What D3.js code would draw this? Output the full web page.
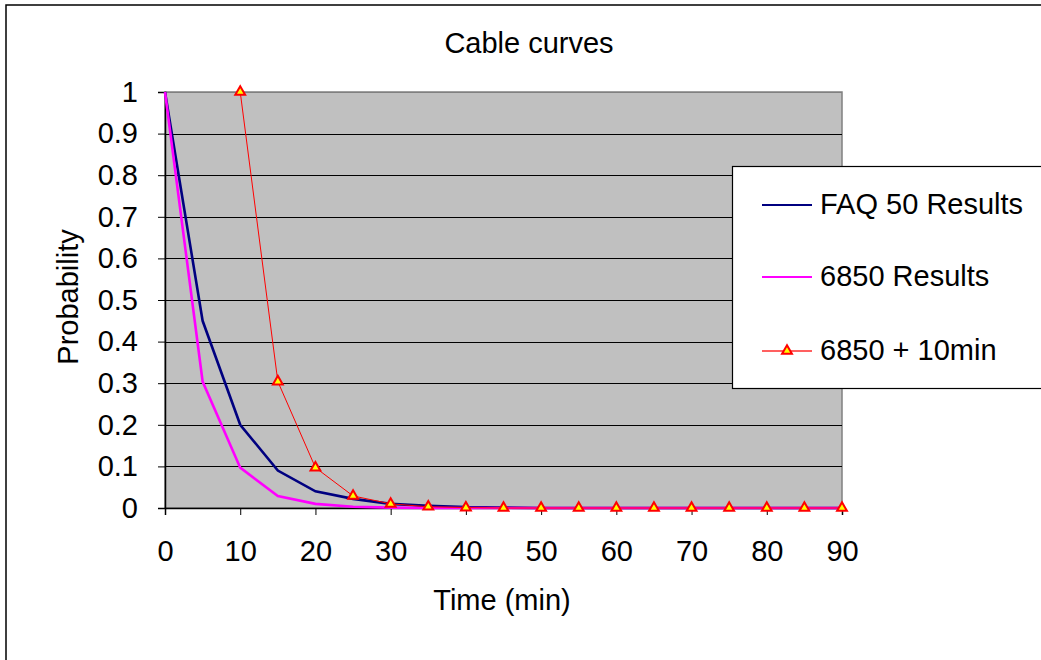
<!DOCTYPE html>
<html>
<head>
<meta charset="utf-8">
<script src="https://cdn.jsdelivr.net/npm/d3@7"></script>
<style>
  html, body { margin: 0; padding: 0; background: #fff; }
  svg { display: block; font-family: "Liberation Sans", Arial, sans-serif; }
</style>
</head>
<body>
<svg id="chart" width="1041" height="660"></svg>
<script>
// Time axis (minutes)
const times = [0, 5, 10, 15, 20, 25, 30, 35, 40, 45, 50, 55, 60, 65, 70, 75, 80, 85, 90];
const xTicks = [0, 10, 20, 30, 40, 50, 60, 70, 80, 90];
const yTicks = [0, 0.1, 0.2, 0.3, 0.4, 0.5, 0.6, 0.7, 0.8, 0.9, 1];

// Series values, one per time step
const faq50 = [1, 0.45, 0.2, 0.09, 0.04, 0.022, 0.01, 0.005, 0.002, 0.001, 0, 0, 0, 0, 0, 0, 0, 0, 0];
const r6850 = [1, 0.304, 0.097, 0.029, 0.01, 0.003, 0.001, 0, 0, 0, 0, 0, 0, 0, 0, 0, 0, 0, 0];
const r6850plus10 = [null, null, 1, 0.304, 0.097, 0.029, 0.01, 0.003, 0.001, 0, 0, 0, 0, 0, 0, 0, 0, 0, 0];

const seriesNames = ["FAQ 50 Results", "6850 Results", "6850 + 10min"];

const FONT = "Liberation Sans, Arial, sans-serif";
const FS = 29;

const svg = d3.select("#chart");
const plot = { left: 165, top: 92, right: 842, bottom: 508 };

const x = d3.scaleLinear().domain([0, 90]).range([plot.left, plot.right]);
const y = d3.scaleLinear().domain([0, 1]).range([plot.bottom, plot.top]);

// Outer chart frame
svg.append("rect").attr("x", 6).attr("y", 5).attr("width", 1100).attr("height", 700)
  .attr("fill", "#fff").attr("stroke", "#000").attr("stroke-width", 1.5);

// Plot background
svg.append("rect")
  .attr("x", plot.left).attr("y", plot.top)
  .attr("width", plot.right - plot.left).attr("height", plot.bottom - plot.top)
  .attr("fill", "#c0c0c0").attr("stroke", "#808080").attr("stroke-width", 1.5);

// Horizontal gridlines
svg.append("g").selectAll("line").data(yTicks.slice(1)).join("line")
  .attr("x1", plot.left).attr("x2", plot.right)
  .attr("y1", d => Math.round(y(d)) + 0.5).attr("y2", d => Math.round(y(d)) + 0.5)
  .attr("stroke", d => d === 1 ? "#808080" : "#000").attr("stroke-width", 1);

// Y axis
const yAxis = svg.append("g").attr("transform", `translate(${plot.left},0)`)
  .call(d3.axisLeft(y).tickValues(yTicks).tickFormat(d3.format("")).tickSize(7).tickPadding(20));
yAxis.select(".domain").attr("stroke", "#000").attr("stroke-width", 1.5);
yAxis.selectAll(".tick line").attr("stroke", "#000");
yAxis.selectAll(".tick text").attr("font-size", FS).attr("fill", "#000").attr("font-family", FONT);

// X axis
const xAxis = svg.append("g").attr("transform", `translate(0,${plot.bottom})`)
  .call(d3.axisBottom(x).tickValues(xTicks).tickFormat(d3.format("d")).tickSize(7).tickPadding(25));
xAxis.select(".domain").attr("stroke", "#000").attr("stroke-width", 1.5);
xAxis.selectAll(".tick line").attr("stroke", "#000");
xAxis.selectAll(".tick text").attr("font-size", FS).attr("fill", "#000").attr("font-family", FONT);

// Lines
const line = d3.line()
  .defined(d => d.v !== null)
  .x(d => x(d.t)).y(d => y(d.v));

const pts = vals => times.map((t, i) => ({ t, v: vals[i] }));

svg.append("path").datum(pts(faq50)).attr("d", line)
  .attr("fill", "none").attr("stroke", "#000080").attr("stroke-width", 2.6);
svg.append("path").datum(pts(r6850)).attr("d", line)
  .attr("fill", "none").attr("stroke", "#ff00ff").attr("stroke-width", 2.6);
svg.append("path").datum(pts(r6850plus10)).attr("d", line)
  .attr("fill", "none").attr("stroke", "#ff0000").attr("stroke-width", 1);

// Triangle markers
const tri = d3.symbol().type(d3.symbolTriangle).size(42);
svg.append("g").selectAll("path")
  .data(pts(r6850plus10).filter(d => d.v !== null)).join("path")
  .attr("d", tri)
  .attr("transform", d => `translate(${x(d.t)},${y(d.v)})`)
  .attr("fill", "#ffff00").attr("stroke", "#ff0000").attr("stroke-width", 2);

// Title
svg.append("text").attr("x", 529).attr("y", 53).attr("text-anchor", "middle")
  .attr("font-size", FS).attr("font-family", FONT).text("Cable curves");

// Axis titles
svg.append("text").attr("x", 502).attr("y", 610).attr("text-anchor", "middle")
  .attr("font-size", FS).attr("font-family", FONT).text("Time (min)");
svg.append("text").attr("transform", "translate(78,297) rotate(-90)")
  .attr("text-anchor", "middle").attr("font-size", FS).attr("font-family", FONT).text("Probability");

// Legend
const legend = svg.append("g");
legend.append("rect").attr("x", 732.5).attr("y", 166.5).attr("width", 400).attr("height", 222)
  .attr("fill", "#fff").attr("stroke", "#000").attr("stroke-width", 1.2);
const legendY = [205, 277, 351];
const legendColors = ["#000080", "#ff00ff", "#ff6060"];
seriesNames.forEach((name, i) => {
  legend.append("line").attr("x1", 762).attr("x2", 812)
    .attr("y1", legendY[i]).attr("y2", legendY[i])
    .attr("stroke", legendColors[i]).attr("stroke-width", 2);
  if (i === 2) {
    legend.append("path").attr("d", tri)
      .attr("transform", `translate(787,${legendY[i]})`)
      .attr("fill", "#ffff00").attr("stroke", "#ff0000").attr("stroke-width", 2);
  }
  legend.append("text").attr("x", 820).attr("y", legendY[i] + 9)
    .attr("font-size", FS).attr("font-family", FONT).text(name);
});
</script>
</body>
</html>
